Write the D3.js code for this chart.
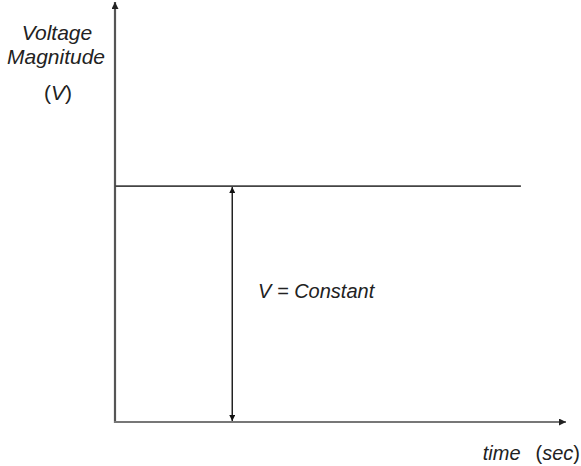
<!DOCTYPE html>
<html><head><meta charset="utf-8">
<script src="https://cdn.jsdelivr.net/npm/d3@7"></script>
<style>html,body{margin:0;padding:0;background:#fff}svg{display:block}text{font-family:"Liberation Sans",Arial,sans-serif;fill:#222}</style>
</head><body><svg id="c" width="581" height="466"></svg>
<script>
// data
const timeValues = [0, 9];          // time (sec)
const voltageValues = [1, 1];       // constant voltage
const markerTime = [2.6];           // position of the "V = Constant" dimension arrow
const xDomain = [0, 10];
const yDomain = [0, 1.78];
const yLabelLines = ["Voltage", "Magnitude"];
const annotation = "V = Constant";

const svg = d3.select("#c");
const x = d3.scaleLinear().domain(xDomain).range([115, 566]);
const y = d3.scaleLinear().domain(yDomain).range([422, 2]);

const defs = svg.append("defs");
function marker(id, color, w, h) {
  defs.append("marker").attr("id", id).attr("viewBox", "0 0 10 10")
    .attr("refX", 10).attr("refY", 5).attr("markerWidth", w).attr("markerHeight", h)
    .attr("markerUnits", "userSpaceOnUse").attr("orient", "auto-start-reverse")
    .append("path").attr("d", "M0,0 L10,5 L0,10 z").attr("fill", color);
}
marker("axArrow", "#222", 11, 7);
marker("dimArrow", "#111", 9, 6);

// axes
svg.append("line").attr("x1", x(0)).attr("y1", y(0) + 1).attr("x2", x(0)).attr("y2", y(yDomain[1]))
  .attr("stroke", "#555").attr("stroke-width", 2.2).attr("marker-end", "url(#axArrow)");
svg.append("line").attr("x1", x(0) - 1).attr("y1", y(0)).attr("x2", x(xDomain[1])).attr("y2", y(0))
  .attr("stroke", "#777").attr("stroke-width", 2.2).attr("marker-end", "url(#axArrow)");

// constant voltage line
const line = d3.line().x((d, i) => x(timeValues[i])).y(d => y(d));
svg.append("path").datum(voltageValues).attr("d", line)
  .attr("fill", "none").attr("stroke", "#444").attr("stroke-width", 1.8);

// dimension double arrow
markerTime.forEach(t => {
  svg.append("line").attr("x1", x(t)).attr("x2", x(t))
    .attr("y1", y(voltageValues[0]) + 1).attr("y2", y(0) - 1)
    .attr("stroke", "#222").attr("stroke-width", 1.5)
    .attr("marker-start", "url(#dimArrow)").attr("marker-end", "url(#dimArrow)");
});

// labels
svg.append("text").attr("x", 57).attr("y", 40).attr("text-anchor", "middle")
  .attr("font-size", 21).attr("font-style", "italic").text(yLabelLines[0]);
svg.append("text").attr("x", 56).attr("y", 64).attr("text-anchor", "middle")
  .attr("font-size", 21).attr("font-style", "italic").text(yLabelLines[1]);
const vl = svg.append("text").attr("x", 58).attr("y", 100).attr("text-anchor", "middle").attr("font-size", 21);
vl.append("tspan").text("(");
vl.append("tspan").attr("font-style", "italic").text("V");
vl.append("tspan").text(")");

svg.append("text").attr("x", 258).attr("y", 298).attr("font-size", 20)
  .attr("font-style", "italic").text(annotation);

const tl = svg.append("text").attr("x", 580).attr("y", 460).attr("text-anchor", "end").attr("font-size", 20);
tl.append("tspan").attr("font-style", "italic").text("time");
tl.append("tspan").attr("dx", 15).text("(");
tl.append("tspan").attr("font-style", "italic").text("sec");
tl.append("tspan").text(")");
</script></body></html>
